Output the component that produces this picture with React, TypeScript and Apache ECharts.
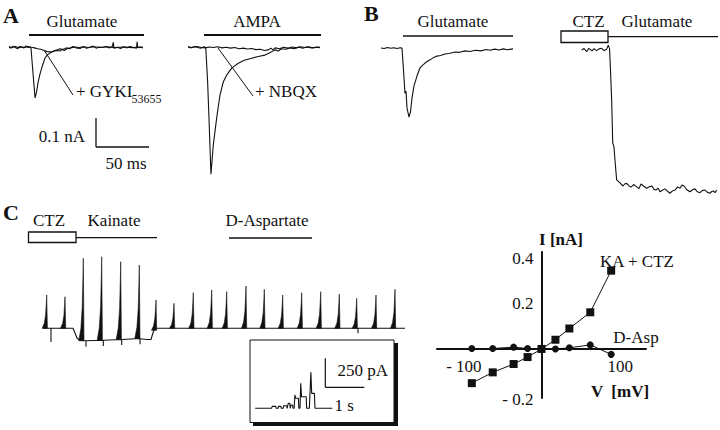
import React, { useEffect, useRef } from "react";
import * as echarts from "echarts";

const FONT = "Liberation Serif";
const INK = "#111";

// ---------- Panel A (time in ms, current in pA) ----------
const glutamateControl: number[][] = [
  [0, 0], [2, -4], [4, 3], [6, -2], [8, -6], [10, 2], [12, -1], [14, -3], [16, 4], [18, -2], [20, 0],
  [20.7, -3], [21.6, -45], [23.1, -114], [24.5, -176], [25.9, -156], [27.3, -124], [29.2, -93], [31.1, -69],
  [33.9, -38], [36, -28], [38.6, -21], [42, -14], [45.2, -10], [48, -6], [50.8, -9], [54, -3], [57, -6],
  [60, 2], [63, -3], [66.8, -5], [70, 1], [73, -4], [76, -1], [79, 3], [82, -4], [85, 0], [88, -2], [91, 2],
  [94, -3], [97, 0], [98.2, 16], [98.8, -4], [102, -1], [105, -5], [108, 1], [111, -3], [114, 2], [117, -2],
  [120, -4], [120.6, 18], [121.2, -2], [124, -1], [126, -3],
];
const glutamateGyki: number[][] = [
  [0, 1], [3, -2], [6, 2], [9, -3], [12, 1], [15, -2], [18, 2], [21, -1], [24, -3], [27, -6], [30, -8],
  [33, -12], [36, -16], [39, -17], [42, -15], [45, -12], [48, -14], [50, -8], [52, -12], [55, -5], [58, -3],
  [62, 0], [66, -2], [70, 1], [75, -2], [80, 1], [86, -2], [92, 1], [100, -2], [108, 0], [116, -2], [126, 0],
];
const ampaControl: number[][] = [
  [0, 0], [3, -3], [6, 2], [9, -2], [12, -4], [15, 1], [16.7, -2], [18.4, -114], [19.8, -252], [21.6, -440],
  [23.8, -339], [27, -245], [30.1, -166], [33.2, -121], [36.4, -97], [41.1, -73], [47.3, -56], [53, -46],
  [60, -39], [66, -33], [72.5, -28], [77, -20], [81.9, -10], [85, -14], [88, -6], [92, -8], [96, -3],
  [100, -6], [104, 0], [108, -4], [112, 1], [116, -3], [120, -1], [124.2, -2],
];
const ampaNbqx: number[][] = [
  [0, 1], [4, -2], [8, 2], [12, -1], [16, -3], [20, 0], [24, -2], [28, 1], [32, -3], [36, -1], [40, -4],
  [44, -2], [48, -6], [52, -4], [56, -7], [60, -5], [64, -9], [68, -8], [72, -12], [76, -9], [78, -4],
  [80, -10], [82, -3], [86, -6], [90, -1], [94, -4], [98, 0], [102, -3], [106, 1], [110, -2], [114, 0],
  [118, -3], [122, 0], [124.2, -1],
];

// ---------- Panel B (ms, pA) ----------
const bGlutamate: number[][] = [
  [0.9, 0], [4, -2], [7, 2], [10, -1], [13, 1], [16, -2], [19, 1], [20.7, 0], [22.1, -76], [23.5, -156],
  [24.5, -150], [25.4, -207], [27.3, -239], [28.7, -221], [30.1, -173], [32, -131], [34.8, -97], [37.6, -69],
  [40, -60], [42.4, -52], [45, -45], [47.1, -41], [50, -34], [53.6, -28], [57, -26], [61.2, -21], [65, -19],
  [70.6, -14], [75, -15], [80, -10], [84.7, -12], [90, -8], [95, -10], [100, -5], [103.5, -8], [108, -4],
  [112, -7], [116, -3], [120, -6], [125.2, -3],
];
const bCtzGlutamate: number[][] = [
  [1.6, -7], [3.8, -2], [6.3, -13], [8, -2], [9.4, -4], [11.3, -10], [13.2, -2], [15.7, -9], [17.9, -3],
  [20.4, -1], [22.6, -9], [25.1, -4], [26.6, 10], [27.8, -2], [28.7, -76], [29.8, -180], [30.8, -328],
  [32, -342], [32.9, -387], [34.5, -456], [37.6, -466], [40.5, -477], [42, -470], [43.9, -468], [46, -476],
  [48, -481], [50.5, -472], [53.4, -480], [55.5, -486], [57.4, -470], [60, -478], [62.8, -485], [65, -480],
  [67.8, -477], [69.5, -488], [71.5, -491], [73.4, -484], [75.3, -497], [77.5, -492], [80, -487],
  [82.3, -495], [84.7, -502], [87, -494], [89.4, -491], [91.8, -480], [94.1, -485], [96, -474], [97.9, -477],
  [100.5, -490], [103.5, -497], [106, -490], [108.2, -487], [110.5, -497], [112.9, -500], [115, -493],
  [117.6, -491], [120, -499], [122.4, -502], [124, -496], [125.5, -494], [127, -500], [128.7, -491],
];

// ---------- Panel C trace (s, pA) ----------
const cBaseline: number[][] = [
  [0.3, 0], [1.1, 0], [1.1, -137], [1.1, 0], [3.3, 0], [3.5, -47], [3.7, -97], [4.0, -122], [4.6, -124],
  [4.6, -184], [4.6, -124], [6.33, -120], [6.33, -177], [6.33, -120], [8.17, -112], [8.17, -167], [8.17, -112],
  [10.0, -102], [10.0, -160], [10.0, -104], [10.7, -112], [11.1, -112], [11.2, -77], [11.4, -17], [11.6, 0],
  [31.8, 0], [31.8, -50], [31.8, 0], [36.5, 0],
];
const cSpikeTimes = [0.67, 2.5, 4.33, 6.17, 8.07, 9.93, 11.6, 13.4, 15.33, 17.17, 18.67, 20.6, 22.43, 24.27, 26.17, 28.07, 29.93, 31.67, 33.6, 35.5];
const cSpikeBase = [0, 0, -124, -120, -112, -102, -20, 0, 0, 0, 0, 0, 0, 0, 0, 0, 0, 0, 0, 0];
const cSpikePeak = [333, 316, 700, 716, 666, 633, 283, 250, 356, 383, 366, 423, 390, 333, 356, 366, 343, 300, 333, 390];

// ---------- Inset trace (s, pA) ----------
const insetTrace: number[][] = [
  [0.08, 0], [0.5, 0], [0.52, 17], [0.61, 17], [0.62, 0], [0.67, 0], [0.68, 17], [0.74, 17], [0.75, 0],
  [0.8, 0], [0.81, 22], [0.89, 22], [0.9, 0], [0.915, 0], [0.93, 43], [0.97, 43], [0.98, 0], [0.99, 0],
  [1.0, 28], [1.04, 28], [1.05, 0], [1.08, 0], [1.1, 115], [1.12, 86], [1.19, 86], [1.2, 0], [1.23, 0],
  [1.25, 216], [1.27, 100], [1.39, 100], [1.4, 0], [1.47, 0], [1.51, 310], [1.53, 129], [1.6, 129],
  [1.615, 0], [2.06, 0],
];

// ---------- I-V relation ----------
const ivVoltage = [-100, -70, -40, -20, 0, 20, 40, 70, 100];
const kaCtzCurrent = [-0.152, -0.104, -0.067, -0.036, 0, 0.041, 0.091, 0.163, 0.348];
const dAspCurrent = [0.002, 0.002, 0.008, 0.002, 0, 0, 0.005, 0.018, -0.024];
const ivXTicks = [-100, 100];
const ivYTicks = [-0.2, 0.2, 0.4];
const ivXRange = [-150, 150];
const ivYRange = [-0.218, 0.431];

// grid frame helper: pixel box plus where value 0 sits and pixel-per-unit scales
function frame(left: number, top: number, width: number, height: number, x0: number, y0: number, kx: number, ky: number) {
  return {
    grid: { left, top, width, height },
    x: { min: (left - x0) / kx, max: (left + width - x0) / kx },
    y: { min: (y0 - top - height) / ky, max: (y0 - top) / ky },
  };
}

const KX = 1.0625; // px per ms
const KY = 0.2893; // px per pA
const frames = [
  frame(5, 38, 145, 142, 9, 47, KX, KY), // 0 A glutamate
  frame(185, 38, 140, 142, 188, 47, KX, KY), // 1 A AMPA
  frame(375, 38, 145, 90, 380, 48, KX, KY), // 2 B glutamate
  frame(575, 38, 145, 165, 580, 48, KX, KY), // 3 B CTZ + glutamate
  frame(38, 250, 372, 100, 40, 328.3, 10, 0.1), // 4 C trace
  frame(252, 365, 82, 47, 252, 408.3, 39, 0.116), // 5 inset
];
const IV_GRID = { left: 437, top: 252, width: 209, height: 146 };

function txt(x: number, y: number, text: string, size = 17, align = "center", weight = "normal") {
  return {
    type: "text",
    x,
    y,
    silent: true,
    style: { text, fill: INK, fontFamily: FONT, fontSize: size, fontWeight: weight, align, verticalAlign: "middle" },
  };
}
function ln(x1: number, y1: number, x2: number, y2: number, w = 1.3) {
  return { type: "line", silent: true, shape: { x1, y1, x2, y2 }, style: { stroke: INK, lineWidth: w } };
}
function box(x: number, y: number, width: number, height: number, fill = "#fff", w = 1.3) {
  return { type: "rect", silent: true, shape: { x, y, width, height }, style: { fill, stroke: INK, lineWidth: w } };
}

export default function App() {
  const ref = useRef<HTMLDivElement>(null);
  useEffect(() => {
    if (!ref.current) return;
    const chart = echarts.init(ref.current, null, { renderer: "svg" });

    const grids: any[] = frames.map((f) => ({ ...f.grid }));
    grids.push({ ...IV_GRID });

    const xAxes: any[] = frames.map((f, i) => ({ type: "value", gridIndex: i, min: f.x.min, max: f.x.max, show: false }));
    const yAxes: any[] = frames.map((f, i) => ({ type: "value", gridIndex: i, min: f.y.min, max: f.y.max, show: false }));

    // the I-V axes cross at (0, 0): shift them inward from the grid edges to the zero lines
    const yAxisShift = (-ivXRange[0] / (ivXRange[1] - ivXRange[0])) * IV_GRID.width;
    const xAxisShift = (-ivYRange[0] / (ivYRange[1] - ivYRange[0])) * IV_GRID.height;

    xAxes.push({
      type: "value",
      gridIndex: 6,
      min: ivXRange[0],
      max: ivXRange[1],
      position: "bottom",
      offset: -xAxisShift,
      axisLine: { onZero: false, lineStyle: { color: INK, width: 2 } },
      axisTick: { show: false },
      splitLine: { show: false },
      axisLabel: {
        customValues: ivXTicks,
        color: INK,
        fontFamily: FONT,
        fontSize: 17,
        margin: 9,
        formatter: (v: number) => (v < 0 ? `{neg|- ${Math.abs(v)}}` : `{pos|${v}}`),
        rich: {
          neg: { padding: [0, 16, 0, 0], fontFamily: FONT, fontSize: 17, color: INK },
          pos: { padding: [0, 0, 0, 18], fontFamily: FONT, fontSize: 17, color: INK },
        },
      },
    });
    yAxes.push({
      type: "value",
      gridIndex: 6,
      min: ivYRange[0],
      max: ivYRange[1],
      position: "left",
      offset: -yAxisShift,
      axisLine: { onZero: false, lineStyle: { color: INK, width: 2 } },
      axisTick: { show: false },
      splitLine: { show: false },
      axisLabel: {
        customValues: ivYTicks,
        color: INK,
        fontFamily: FONT,
        fontSize: 17,
        margin: 8,
        formatter: (v: number) => (v < 0 ? `{neg|- ${Math.abs(v).toFixed(1)}}` : v.toFixed(1)),
        rich: { neg: { padding: [12, 0, 0, 0], fontFamily: FONT, fontSize: 17, color: INK } },
      },
    });

    const trace = (data: number[][], idx: number) => ({
      type: "line",
      xAxisIndex: idx,
      yAxisIndex: idx,
      data,
      symbol: "none",
      showSymbol: false,
      silent: true,
      lineStyle: { color: INK, width: 1.1 },
      z: 3,
    });

    const series: any[] = [
      trace(glutamateGyki, 0),
      trace(glutamateControl, 0),
      trace(ampaNbqx, 1),
      trace(ampaControl, 1),
      trace(bGlutamate, 2),
      trace(bCtzGlutamate, 3),
      trace(cBaseline, 4),
      {
        type: "custom",
        xAxisIndex: 4,
        yAxisIndex: 4,
        silent: true,
        z: 4,
        data: cSpikeTimes.map((t, i) => [t, cSpikeBase[i], cSpikePeak[i]]),
        encode: { x: 0, y: [1, 2] },
        renderItem: (_p: any, api: any) => {
          const top = api.coord([api.value(0), api.value(2)]);
          const bot = api.coord([api.value(0), api.value(1)]);
          const x = top[0];
          const yt = top[1];
          const yb = bot[1];
          const h = yb - yt;
          return {
            type: "polygon",
            shape: {
              points: [
                [x - 4.5, yb],
                [x - 2.4, yb - 0.15 * h],
                [x - 1.1, yb - 0.4 * h],
                [x - 0.4, yb - 0.75 * h],
                [x, yt],
                [x + 0.7, yb],
              ],
            },
            style: { fill: INK, stroke: INK, lineWidth: 0.6 },
          };
        },
      },
      trace(insetTrace, 5),
      {
        type: "line",
        name: "KA + CTZ",
        xAxisIndex: 6,
        yAxisIndex: 6,
        data: ivVoltage.map((v, i) => [v, kaCtzCurrent[i]]),
        symbol: "rect",
        symbolSize: 8,
        silent: true,
        lineStyle: { color: INK, width: 1 },
        itemStyle: { color: INK },
        z: 5,
      },
      {
        type: "line",
        name: "D-Asp",
        xAxisIndex: 6,
        yAxisIndex: 6,
        data: ivVoltage.map((v, i) => [v, dAspCurrent[i]]),
        symbol: "circle",
        symbolSize: 7,
        silent: true,
        lineStyle: { color: INK, width: 1 },
        itemStyle: { color: INK },
        z: 5,
      },
    ];

    const graphic: any[] = [
      // panel letters
      txt(3, 15, "A", 22, "left", "bold"),
      txt(364, 13, "B", 22, "left", "bold"),
      txt(3, 212, "C", 22, "left", "bold"),
      // panel A
      txt(82, 21, "Glutamate"),
      ln(29, 35, 144, 35, 2),
      txt(257, 21, "AMPA"),
      ln(204, 35, 321, 35, 2),
      ln(44, 50, 73, 95, 1),
      txt(76, 91, "+ GYKI", 17, "left"),
      txt(131.5, 99, "53655", 12, "left"),
      ln(218, 48, 253, 96, 1),
      txt(255, 91, "+ NBQX", 17, "left"),
      ln(96, 118, 96, 147, 1.3),
      ln(96, 147, 149, 147, 1.3),
      txt(62, 136, "0.1 nA"),
      txt(126, 163, "50 ms"),
      // panel B
      txt(453, 21, "Glutamate"),
      ln(403, 36, 513, 36, 1.5),
      txt(588.5, 21, "CTZ"),
      txt(657, 21, "Glutamate"),
      box(561, 31, 47, 11.5),
      ln(608, 36.7, 718, 36.7, 1.3),
      // panel C
      txt(49, 220, "CTZ"),
      txt(114, 220, "Kainate"),
      txt(267, 220, "D-Aspartate"),
      box(28.5, 232, 47.5, 10.5),
      ln(76, 237.7, 157, 237.7, 1.3),
      ln(229, 238, 312, 238, 1.3),
      // inset
      { type: "rect", silent: true, shape: { x: 253, y: 343, width: 145, height: 83 }, style: { fill: INK } },
      box(250, 340, 144, 82.5, "#fff", 1),
      ln(325.3, 358.3, 325.3, 387.3, 1.2),
      ln(325.3, 387.3, 364.3, 387.3, 1.2),
      txt(337.5, 370.5, "250 pA", 17, "left"),
      txt(334.5, 405, "1 s", 17, "left"),
      // IV annotations
      txt(561, 239, "I [nA]", 17, "center", "bold"),
      txt(620, 391, "V  [mV]", 17, "center", "bold"),
      txt(637, 261, "KA + CTZ"),
      txt(636, 337, "D-Asp"),
    ];

    chart.setOption({
      animation: false,
      backgroundColor: "#fff",
      textStyle: { fontFamily: FONT },
      grid: grids,
      xAxis: xAxes,
      yAxis: yAxes,
      series,
      graphic,
    });
    return () => chart.dispose();
  }, []);

  return <div ref={ref} style={{ position: "fixed", left: 0, top: 0, width: 720, height: 430 }} />;
}
